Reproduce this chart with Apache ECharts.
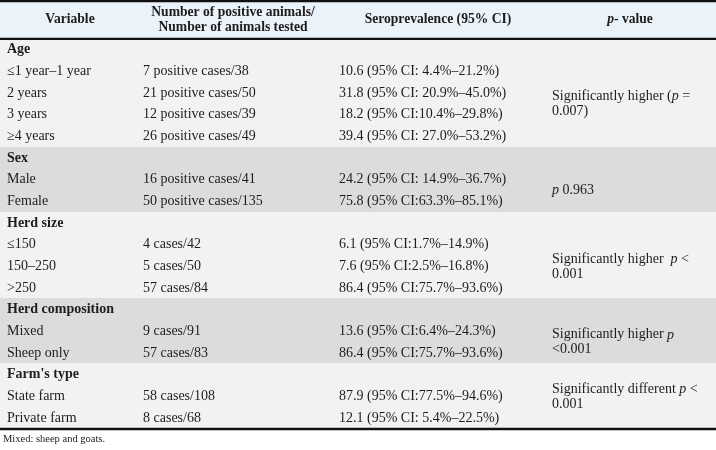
<!DOCTYPE html>
<html><head><meta charset="utf-8">
<script src="https://cdn.jsdelivr.net/npm/echarts@6/dist/echarts.min.js"></script>
<style>html,body{margin:0;padding:0;background:#fff}#c{width:716px;height:450px}</style>
</head><body><div id="c"></div>
<script>
// ---------- data ----------
const headers = ['Variable', 'Number of positive animals/\nNumber of animals tested', 'Seroprevalence (95% CI)', '{bi|p}- value'];
const rowLabels = ['Age', '≤1 year–1 year', '2 years', '3 years', '≥4 years',
  'Sex', 'Male', 'Female',
  'Herd size', '≤150', '150–250', '>250',
  'Herd composition', 'Mixed', 'Sheep only',
  "Farm's type", 'State farm', 'Private farm'];
const groupRows = [0, 5, 8, 12, 15];
const counts = ['', '7 positive cases/38', '21 positive cases/50', '12 positive cases/39', '26 positive cases/49',
  '', '16 positive cases/41', '50 positive cases/135',
  '', '4 cases/42', '5 cases/50', '57 cases/84',
  '', '9 cases/91', '57 cases/83',
  '', '58 cases/108', '8 cases/68'];
const seroprevalence = ['', '10.6 (95% CI: 4.4%–21.2%)', '31.8 (95% CI: 20.9%–45.0%)', '18.2 (95% CI:10.4%–29.8%)', '39.4 (95% CI: 27.0%–53.2%)',
  '', '24.2 (95% CI: 14.9%–36.7%)', '75.8 (95% CI:63.3%–85.1%)',
  '', '6.1 (95% CI:1.7%–14.9%)', '7.6 (95% CI:2.5%–16.8%)', '86.4 (95% CI:75.7%–93.6%)',
  '', '13.6 (95% CI:6.4%–24.3%)', '86.4 (95% CI:75.7%–93.6%)',
  '', '87.9 (95% CI:77.5%–94.6%)', '12.1 (95% CI: 5.4%–22.5%)'];
const pValueTexts = ['Significantly higher ({i|p} =\n0.007)', '{i|p} 0.963', 'Significantly higher  {i|p} <\n0.001', 'Significantly higher {i|p}\n<0.001', 'Significantly different {i|p} <\n0.001'];
const pValueFirstRow = [1, 6, 9, 13, 15];
const pValueLastRow = [4, 7, 11, 14, 17];
const shadedGroups = ['Sex', 'Herd composition'];
const footnote = 'Mixed: sheep and goats.';

// ---------- layout ----------
const W = 716;
const HEADER_UNITS = 1.75;
const colLeft = [7, 143, 339, 552];
const headerCenter = [70, 233, 438, 630];
const FONT = '"Liberation Serif", "Times New Roman", serif';
const TXT = '#1e1c1c';
const C_HEADER = '#eaf2fa', C_BODY = '#f2f2f2', C_SHADE = '#dcdcdc';

function groupOf(i) { let g = 0; groupRows.forEach(r => { if (r <= i) g = r; }); return g; }
const rowShaded = rowLabels.map((_, i) => shadedGroups.indexOf(rowLabels[groupOf(i)]) >= 0);

// cells
const cells = [];
headers.forEach((h, c) => cells.push({x: headerCenter[c], y: -HEADER_UNITS / 2, text: h, bold: true, align: 'center'}));
rowLabels.forEach((lab, i) => {
  const isGroup = groupRows.indexOf(i) >= 0;
  cells.push({x: colLeft[0], y: i + 0.5, text: lab, bold: isGroup, align: 'left'});
  if (counts[i]) cells.push({x: colLeft[1], y: i + 0.5, text: counts[i], bold: false, align: 'left'});
  if (seroprevalence[i]) cells.push({x: colLeft[2], y: i + 0.5, text: seroprevalence[i], bold: false, align: 'left'});
});
pValueTexts.forEach((t, k) => cells.push({x: colLeft[3], y: (pValueFirstRow[k] + pValueLastRow[k] + 1) / 2, text: t, bold: false, align: 'left'}));

const borders = [{y: -HEADER_UNITS, w: 2.6}, {y: 0, w: 2.2}, {y: rowLabels.length, w: 2.4}];

const chart = echarts.init(document.getElementById('c'), null, {renderer: 'canvas'});
chart.setOption({
  animation: false,
  backgroundColor: '#fff',
  title: {text: footnote, left: 3, top: 434, padding: 0,
    textStyle: {fontFamily: FONT, fontSize: 10.5, fontWeight: 'normal', color: TXT}},
  grid: {left: 0, right: 0, top: 1, bottom: 21, containLabel: false},
  xAxis: {type: 'value', min: 0, max: W, show: false},
  yAxis: {type: 'value', min: -HEADER_UNITS, max: rowLabels.length, inverse: true, show: false},
  series: [
    { // header background
      type: 'custom', silent: true, clip: false,
      data: [[0, -HEADER_UNITS]],
      renderItem: function (params, api) {
        const p0 = api.coord([0, -HEADER_UNITS]), p1 = api.coord([W, 0]);
        return {type: 'rect', shape: {x: p0[0], y: p0[1], width: p1[0] - p0[0], height: p1[1] - p0[1]}, style: {fill: C_HEADER}};
      }
    },
    { // row backgrounds
      type: 'custom', silent: true, clip: false,
      data: rowLabels.map((_, i) => [0, i]),
      renderItem: function (params, api) {
        const i = params.dataIndex;
        const p0 = api.coord([0, api.value(1)]), p1 = api.coord([W, api.value(1) + 1]);
        const y0 = Math.floor(p0[1]), y1 = Math.ceil(p1[1]);
        return {type: 'rect', shape: {x: p0[0], y: y0, width: p1[0] - p0[0], height: y1 - y0}, style: {fill: rowShaded[i] ? C_SHADE : C_BODY}};
      }
    },
    { // rules
      type: 'custom', silent: true, clip: false, z: 5,
      data: borders.map(b => [0, b.y]),
      renderItem: function (params, api) {
        const b = borders[params.dataIndex];
        const p0 = api.coord([0, api.value(1)]), p1 = api.coord([W, api.value(1)]);
        return {type: 'line', shape: {x1: p0[0], y1: p0[1], x2: p1[0], y2: p1[1]}, style: {stroke: '#111', lineWidth: b.w}};
      }
    },
    { // texts
      type: 'custom', silent: true, clip: false, z: 6,
      data: cells.map(c => [c.x, c.y]),
      renderItem: function (params, api) {
        const c = cells[params.dataIndex];
        const p = api.coord([api.value(0), api.value(1)]);
        const fw = c.bold ? 'bold' : 'normal';
        const fs = c.bold && c.y < 0 ? 13.6 : 14;
        return {
          type: 'text',
          style: {
            x: p[0], y: p[1], text: c.text,
            fill: TXT, fontFamily: FONT, fontSize: fs, fontWeight: fw,
            align: c.align, verticalAlign: 'middle', lineHeight: 15,
            rich: {
              i: {fontStyle: 'italic', fontFamily: FONT, fontSize: fs, fontWeight: fw, fill: TXT, lineHeight: 15},
              bi: {fontStyle: 'italic', fontFamily: FONT, fontSize: fs, fontWeight: 'bold', fill: TXT, lineHeight: 15}
            }
          }
        };
      }
    }
  ]
});
</script>
</body></html>
